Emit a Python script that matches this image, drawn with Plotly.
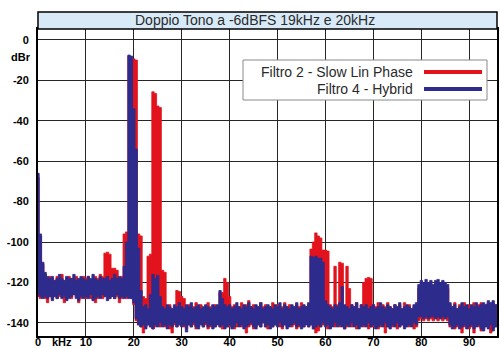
import plotly.graph_objects as go

# Spectrum bins: 0.5 kHz wide, centred on 0.0, 0.5, ... 95.5 kHz
STEP = 0.5
FREQ_KHZ = [i * STEP for i in range(192)]

# Filtro 4 - Hybrid: upper / lower envelope of each bin (dBr), 10 kHz per row
HYBRID_TOP = [
    -66, -96, -110, -115, -117, -118, -117, -119, -118, -116, -118, -119, -117, -118, -118, -116, -119, -118, -117, -118,
    -119, -117, -118, -116, -118, -119, -117, -118, -118, -117, -119, -118, -116, -118, -117, -118, -112, -100, -7.5, -8,
    -34, -54, -103, -124, -132, -131, -133, -126, -116, -118, -116.5, -127, -132, -133, -131, -132, -133, -131, -132, -130,
    -132, -133, -131, -132, -130, -133, -132, -131, -133, -132, -131, -132, -133, -131, -132, -131, -124, -128, -131, -132,
    -131, -133, -132, -130, -132, -133, -131, -132, -130, -132, -133, -131, -132, -130, -133, -132, -131, -132, -133, -131,
    -132, -130, -133, -131, -132, -133, -131, -132, -130, -133, -132, -131, -132, -130, -107, -107.5, -107, -108, -108, -110,
    -129, -131, -132, -133, -131, -132, -130, -122, -131, -132, -133, -131, -132, -130, -133, -131, -132, -131, -133, -132,
    -131, -133, -132, -130, -132, -133, -131, -132, -133, -131, -132, -130, -133, -132, -131, -132, -133, -131, -130, -121,
    -119, -120, -118.5, -120, -119, -121, -119, -118.5, -120, -119, -120, -121, -130, -132, -131, -133, -132, -130, -132, -131,
    -133, -131, -132, -130, -132, -131, -130, -131, -129, -130, -129, -131,
]
HYBRID_BOTTOM = [
    -126, -127, -128, -127, -128, -127, -129, -127, -128, -126, -128, -127, -129, -128, -127, -126, -128, -129, -127, -128,
    -127, -128, -126, -129, -128, -127, -128, -126, -127, -129, -128, -127, -128, -126, -128, -127, -128, -127, -128, -128,
    -130, -138, -141, -142, -141, -143, -141, -142, -143, -141, -142, -140, -142, -141, -143, -141, -142, -140, -142, -141,
    -142, -141, -144.5, -141, -142, -140, -142, -143, -141, -142, -140, -142, -141, -143, -142, -141, -142, -141, -143, -142,
    -141, -143, -142, -140, -142, -141, -143, -142, -141, -140, -142, -143, -141, -142, -140, -142, -141, -143, -142, -141,
    -142, -140, -142, -141, -143, -142, -141, -140, -142, -141, -143, -142, -141, -142, -141, -143, -142, -141, -142, -140,
    -142, -141, -143, -142, -140, -142, -141, -142, -143, -141, -142, -140, -142, -141, -143, -142, -141, -142, -140, -142,
    -141, -143, -142, -141, -142, -140, -142, -143, -141, -142, -140, -142, -141, -143, -142, -141, -142, -140, -141, -137,
    -137, -138, -137, -138, -137, -137, -138, -137, -138, -137, -138, -137, -141, -143, -142, -141, -143, -142, -141, -143,
    -142, -141, -143, -142, -141, -143, -144, -142, -143, -141, -144, -142,
]

# Filtro 2 - Slow Lin Phase
SLOW_TOP = [
    -68, -97, -111, -116, -118, -117, -118, -119, -117, -118, -116, -119, -118, -117, -118, -118, -117, -119, -118, -117,
    -118, -117, -119, -118, -117, -118, -116, -117, -105.5, -105, -106, -113, -113, -114, -118, -117, -96, -95, -8, -9.4,
    -9.4, -10, -96, -97, -127, -128, -107, -106, -25.7, -26.5, -32.7, -33.5, -114, -115, -132, -131, -133, -132, -124, -124.5,
    -127, -128, -132, -131, -133, -132, -130, -132, -131, -133, -132, -130, -132, -133, -131, -132, -125, -125, -118, -120,
    -127, -132, -131, -133, -132, -130, -132, -131, -129, -132, -131, -133, -132, -130, -132, -131, -133, -132, -130, -132,
    -131, -133, -132, -130, -132, -131, -133, -132, -131, -132, -130, -133, -132, -131, -103.5, -100, -95.5, -97, -98, -104,
    -104, -104.5, -131, -132, -112, -131, -110, -110.5, -132, -112, -123, -131, -132, -130, -133, -131, -120, -118, -117.5, -118,
    -131, -132, -130, -133, -131, -132, -130, -132, -133, -131, -132, -131, -133, -130, -132, -131, -133, -132, -131, -123,
    -121, -122, -120, -123, -121, -122, -120, -121, -122, -121, -122, -123, -131, -132, -130, -133, -131, -132, -130, -132,
    -131, -132, -130, -133, -131, -130, -132, -131, -130, -132, -130, -131,
]
SLOW_BOTTOM = [
    -127, -128, -127, -128, -130, -127, -128, -127, -128, -127, -126, -130, -128, -127, -128, -126, -127, -130, -128, -127,
    -128, -127, -128, -126, -130, -128, -127, -128, -127, -126, -128, -127, -128, -127, -130, -128, -127, -128, -127, -128,
    -131, -139, -141, -142, -145, -142, -141, -142, -143, -142, -141, -142, -140, -142, -141, -143, -145, -141, -142, -141,
    -141, -142, -143, -141, -142, -141, -143, -142, -140, -142, -141, -143, -142, -141, -142, -140, -142, -143, -141, -142,
    -142, -141, -143, -142, -141, -142, -140, -145, -142, -141, -143, -142, -141, -142, -140, -142, -143, -141, -142, -141,
    -141, -142, -143, -141, -142, -140, -142, -141, -143, -142, -141, -142, -140, -142, -141, -143, -145, -144, -142, -141,
    -141, -143, -142, -141, -142, -140, -142, -141, -143, -142, -140, -142, -141, -143, -142, -141, -142, -140, -143, -142,
    -142, -141, -143, -142, -141, -145, -142, -140, -142, -141, -143, -142, -141, -142, -140, -142, -141, -143, -142, -139,
    -138, -139, -138, -139, -138, -139, -138, -139, -138, -139, -138, -139, -142, -141, -143, -142, -141, -145, -142, -141,
    -143, -142, -145, -141, -142, -144, -143, -141, -142, -145, -143, -142,
]

X_TICKS = [0, 10, 20, 30, 40, 50, 60, 70, 80, 90]
Y_TICKS = [0, -20, -40, -60, -80, -100, -120, -140]

TITLE = "Doppio Tono a -6dBFS 19kHz e 20kHz"
SERIES = [
    ("Filtro 2 - Slow Lin Phase", SLOW_TOP, SLOW_BOTTOM, "#e2131d"),
    ("Filtro 4 - Hybrid", HYBRID_TOP, HYBRID_BOTTOM, "#2d2b8c"),
]

FONT = "Liberation Sans, Arial, sans-serif"

# pixel geometry of the plot frame (500x348 canvas)
L, R, T, B = 38, 497, 29, 336
W, H = R - L, B - T


def px(x):
    return (x - L) / W


def py(y):
    return (B - y) / H


def band(freqs, top, bottom):
    """Closed step outline: upper envelope left->right, lower envelope back."""
    xs, ys = [], []
    for f, t in zip(freqs, top):
        xs += [f - STEP / 2, f + STEP / 2]
        ys += [t, t]
    for f, b in reversed(list(zip(freqs, bottom))):
        xs += [f + STEP / 2, f - STEP / 2]
        ys += [b, b]
    xs.append(xs[0])
    ys.append(ys[0])
    return xs, ys


fig = go.Figure()
for name, top, bottom, color in SERIES:
    xs, ys = band(FREQ_KHZ, top, bottom)
    fig.add_trace(go.Scatter(
        x=xs, y=ys, mode="lines", name=name, fill="toself",
        fillcolor=color, line=dict(color=color, width=0.8),
        hoverinfo="skip", showlegend=False,
    ))

grid = "#262626"
fig.update_xaxes(
    range=[0, 95.8], tickvals=X_TICKS, ticktext=[str(v) for v in X_TICKS],
    showgrid=True, gridcolor=grid, gridwidth=1, zeroline=False,
    showline=True, linecolor="black", linewidth=2, mirror=True,
    ticks="", ticklabelstandoff=-5, automargin=False,
    tickfont=dict(family=FONT, size=11, color="black", weight="bold"),
)
fig.update_yaxes(
    range=[-146.5, 5.4], tickvals=Y_TICKS, ticktext=[str(v) for v in Y_TICKS],
    showgrid=True, gridcolor=grid, gridwidth=1, zeroline=False,
    showline=True, linecolor="black", linewidth=2, mirror=True,
    ticks="", ticklabelstandoff=5, automargin=False,
    tickfont=dict(family=FONT, size=11, color="black", weight="bold"),
)

shapes = [
    # title band above the plot area
    dict(type="rect", xref="paper", yref="paper", x0=0, x1=1, y0=1, y1=py(12),
         fillcolor="#d8eaf8", line=dict(color="black", width=1.5), layer="above"),
    # legend box
    dict(type="rect", xref="paper", yref="paper", x0=px(243), x1=px(487), y0=py(100), y1=py(60),
         fillcolor="white", line=dict(color="#8a8a8a", width=1), layer="above"),
]
annotations = [
    dict(text=TITLE, xref="paper", yref="paper", x=px(255), y=py(20.5),
         xanchor="center", yanchor="middle", showarrow=False,
         font=dict(family=FONT, size=14, color="#2a2a2a")),
    dict(text="dBr", xref="paper", yref="paper", x=px(33), y=py(57),
         xanchor="right", yanchor="middle", showarrow=False,
         font=dict(family=FONT, size=11, color="black", weight="bold")),
    dict(text="kHz", xref="paper", yref="paper", x=px(62), y=py(342),
         xanchor="center", yanchor="middle", showarrow=False,
         font=dict(family=FONT, size=11, color="black", weight="bold")),
]
for (name, _, _, color), ly in zip(SERIES, (72, 89)):
    shapes.append(dict(type="line", xref="paper", yref="paper",
                       x0=px(424), x1=px(482), y0=py(ly), y1=py(ly),
                       line=dict(color=color, width=4), layer="above"))
    annotations.append(dict(text=name, xref="paper", yref="paper", x=px(415), y=py(ly),
                            xanchor="right", yanchor="middle", showarrow=False,
                            font=dict(family=FONT, size=14, color="#2a2a2a")))

fig.update_layout(
    width=500, height=348,
    margin=dict(l=L, r=500 - R, t=T, b=348 - B),
    paper_bgcolor="white", plot_bgcolor="white",
    shapes=shapes, annotations=annotations, showlegend=False,
)

fig.write_html("out.html")
